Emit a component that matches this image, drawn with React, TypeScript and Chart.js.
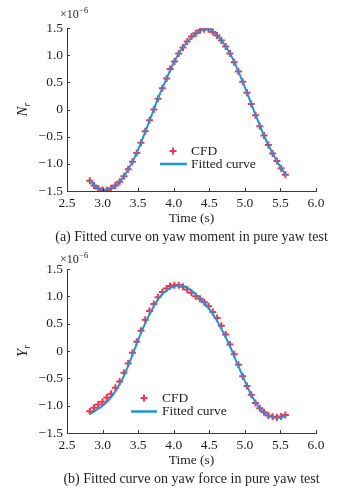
import React, { useEffect, useRef } from "react";
import { Chart, registerables } from "chart.js";

Chart.register(...registerables);

// ---- shared data ----
const TIME = [
  2.82, 2.88, 2.94, 3.0, 3.06, 3.12, 3.18, 3.24, 3.3, 3.36,
  3.42, 3.48, 3.54, 3.6, 3.66, 3.72, 3.78, 3.84, 3.9, 3.95,
  4.01, 4.07, 4.13, 4.19, 4.25, 4.31, 4.37, 4.43, 4.49, 4.55,
  4.61, 4.67, 4.73, 4.79, 4.85, 4.91, 4.97, 5.03, 5.09, 5.15,
  5.21, 5.27, 5.33, 5.39, 5.45, 5.51, 5.57,
];
const X_TICKS = [2.5, 3.0, 3.5, 4.0, 4.5, 5.0, 5.5, 6.0];
const Y_TICKS = [-1.5, -1.0, -0.5, 0, 0.5, 1.0, 1.5];

// ---- (a) yaw moment ----
const CFD_N = [
  -1.31, -1.4, -1.455, -1.48, -1.48, -1.45, -1.4, -1.33, -1.23, -1.1,
  -0.96, -0.8, -0.61, -0.4, -0.2, 0.0, 0.2, 0.39, 0.57, 0.745,
  0.885, 1.03, 1.14, 1.25, 1.345, 1.405, 1.46, 1.478, 1.478, 1.425,
  1.36, 1.27, 1.16, 1.03, 0.87, 0.7, 0.51, 0.31, 0.1, -0.105,
  -0.31, -0.48, -0.655, -0.81, -0.95, -1.08, -1.2,
];
const FIT_T_N = [
  2.82, 2.9, 3.0, 3.1, 3.2, 3.3, 3.4, 3.5, 3.6, 3.7, 3.8, 3.9, 4.0, 4.1,
  4.2, 4.3, 4.4, 4.5, 4.6, 4.7, 4.8, 4.9, 5.0, 5.1, 5.2, 5.3, 5.4, 5.5, 5.58,
];
const FIT_N = [
  -1.3, -1.42, -1.475, -1.46, -1.38, -1.23, -1.01, -0.74, -0.41, -0.07,
  0.27, 0.57, 0.86, 1.09, 1.26, 1.39, 1.46, 1.478, 1.38, 1.22,
  1.01, 0.73, 0.41, 0.07, -0.26, -0.57, -0.83, -1.06, -1.21,
];

// ---- (b) yaw force ----
const CFD_Y = [
  -1.1, -1.04, -0.98, -0.93, -0.85, -0.78, -0.67, -0.56, -0.4, -0.23,
  -0.03, 0.17, 0.37, 0.57, 0.73, 0.86, 0.985, 1.08, 1.145, 1.19,
  1.205, 1.205, 1.175, 1.125, 1.065, 1.0, 0.955, 0.89, 0.82, 0.715,
  0.605, 0.46, 0.3, 0.117, -0.06, -0.25, -0.46, -0.64, -0.8, -0.95,
  -1.045, -1.12, -1.18, -1.205, -1.215, -1.2, -1.17,
];
const FIT_T_Y = [
  2.83, 2.9, 3.0, 3.1, 3.2, 3.3, 3.4, 3.5, 3.6, 3.7, 3.8, 3.9, 4.0, 4.1,
  4.2, 4.3, 4.4, 4.5, 4.6, 4.7, 4.8, 4.9, 5.0, 5.1, 5.2, 5.3, 5.4, 5.5, 5.58,
];
const FIT_Y = [
  -1.15, -1.09, -1.0, -0.88, -0.7, -0.46, -0.14, 0.2, 0.51, 0.77,
  0.98, 1.11, 1.18, 1.2, 1.15, 1.05, 0.92, 0.77, 0.57, 0.33,
  0.06, -0.25, -0.55, -0.83, -1.03, -1.16, -1.21, -1.22, -1.17,
];

const RED = "#ef3550";
const BLUE = "#1f97d6";
const AXIS = "#3a3a3a";
const TEXT = "#1e1e1e";
const SERIF = '"Liberation Serif", "DejaVu Serif", serif';

const fmt = (v: number) =>
  v === 0 ? "0" : (v < 0 ? "\u2212" : "") + Math.abs(v).toFixed(1);

function drawCross(ctx: CanvasRenderingContext2D, x: number, y: number) {
  ctx.save();
  ctx.strokeStyle = RED;
  ctx.lineWidth = 2;
  ctx.beginPath();
  ctx.moveTo(x - 3.5, y);
  ctx.lineTo(x + 3.5, y);
  ctx.moveTo(x, y - 3.5);
  ctx.lineTo(x, y + 3.5);
  ctx.stroke();
  ctx.restore();
}

type PanelProps = {
  top: number;
  height: number;
  padTop: number;
  xHeight: number;
  cfd: number[];
  fitT: number[];
  fitV: number[];
  yLetter: string;
  caption: string;
  legend: { mx: number; my: number; lx1: number; lx2: number; ly: number; tx: number };
};

function Panel(p: PanelProps) {
  const ref = useRef<HTMLCanvasElement | null>(null);
  useEffect(() => {
    if (!ref.current) return;
    const decor = {
      id: "decor",
      afterDraw(chart: any) {
        const ctx = chart.ctx as CanvasRenderingContext2D;
        const a = chart.chartArea;
        const xs = chart.scales.x;
        const ys = chart.scales.y;
        ctx.save();
        // inward ticks
        ctx.strokeStyle = AXIS;
        ctx.lineWidth = 1;
        ctx.beginPath();
        X_TICKS.forEach((v) => {
          const px = Math.round(xs.getPixelForValue(v)) + 0.5;
          ctx.moveTo(px, a.bottom);
          ctx.lineTo(px, a.bottom - 3);
        });
        Y_TICKS.forEach((v) => {
          const py = Math.round(ys.getPixelForValue(v)) + 0.5;
          ctx.moveTo(a.left, py);
          ctx.lineTo(a.left + 3, py);
        });
        ctx.stroke();

        ctx.fillStyle = TEXT;
        const cx = (a.left + a.right) / 2;
        ctx.textAlign = "center";
        ctx.textBaseline = "middle";
        ctx.font = `13.5px ${SERIF}`;
        ctx.fillText("Time (s)", cx, a.bottom + 27);
        ctx.font = `14px ${SERIF}`;
        ctx.fillText(p.caption, cx, a.bottom + 46);

        // exponent
        ctx.textAlign = "left";
        ctx.textBaseline = "alphabetic";
        ctx.font = `12px ${SERIF}`;
        ctx.fillText("\u00d710", 60, 18);
        const w = ctx.measureText("\u00d710").width;
        ctx.font = `8.5px ${SERIF}`;
        ctx.fillText("\u22126", 60 + w + 0.5, 12.5);

        // y title
        ctx.save();
        ctx.translate(27, (a.top + a.bottom) / 2);
        ctx.rotate(-Math.PI / 2);
        ctx.font = `italic 15px ${SERIF}`;
        const nw = ctx.measureText(p.yLetter).width;
        ctx.textAlign = "left";
        ctx.fillText(p.yLetter, -(nw + 4) / 2, 0);
        ctx.font = `italic 9.5px ${SERIF}`;
        ctx.fillText("r", -(nw + 4) / 2 + nw, 3);
        ctx.restore();

        // legend
        const L = p.legend;
        drawCross(ctx, L.mx, L.my);
        ctx.strokeStyle = BLUE;
        ctx.lineWidth = 2.5;
        ctx.beginPath();
        ctx.moveTo(L.lx1, L.ly);
        ctx.lineTo(L.lx2, L.ly);
        ctx.stroke();
        ctx.fillStyle = TEXT;
        ctx.font = `13.5px ${SERIF}`;
        ctx.textAlign = "left";
        ctx.textBaseline = "middle";
        ctx.fillText("CFD", L.tx, L.my);
        ctx.fillText("Fitted curve", L.tx, L.ly);
        ctx.restore();
      },
    };

    const tickFont = { family: SERIF, size: 13.5 };
    const chart = new Chart(ref.current, {
      type: "scatter",
      data: {
        datasets: [
          {
            type: "line",
            label: "Fitted curve",
            data: p.fitT.map((t, i) => ({ x: t, y: p.fitV[i] })),
            borderColor: BLUE,
            borderWidth: 2,
            pointRadius: 0,
            cubicInterpolationMode: "monotone",
            fill: false,
            order: 0,
          },
          {
            label: "CFD",
            data: TIME.map((t, i) => ({ x: t, y: p.cfd[i] })),
            pointStyle: "cross",
            pointRadius: 3.5,
            borderWidth: 2,
            borderColor: RED,
            backgroundColor: RED,
            showLine: false,
            order: 1,
          },
        ],
      } as any,
      options: {
        responsive: false,
        animation: false,
        devicePixelRatio: 1,
        layout: { padding: { top: p.padTop, right: 38, left: 0, bottom: 0 } },
        plugins: { legend: { display: false }, tooltip: { enabled: false } },
        scales: {
          x: {
            type: "linear",
            min: 2.5,
            max: 6.0,
            afterBuildTicks: (s: any) => {
              s.ticks = X_TICKS.map((v) => ({ value: v }));
            },
            afterFit: (s: any) => {
              s.height = p.xHeight;
            },
            grid: { display: true, drawOnChartArea: false, drawTicks: false },
            border: { display: true, color: AXIS, width: 1 },
            ticks: {
              font: tickFont,
              color: TEXT,
              padding: 4,
              maxRotation: 0,
              autoSkip: false,
              callback: (v: any) => fmt(Number(v)),
            },
          },
          y: {
            type: "linear",
            min: -1.5,
            max: 1.5,
            afterBuildTicks: (s: any) => {
              s.ticks = Y_TICKS.map((v) => ({ value: v }));
            },
            afterFit: (s: any) => {
              s.width = 67;
            },
            grid: { display: true, drawOnChartArea: false, drawTicks: false },
            border: { display: true, color: AXIS, width: 1 },
            ticks: {
              font: tickFont,
              color: TEXT,
              padding: 4,
              autoSkip: false,
              callback: (v: any) => fmt(Number(v)),
            },
          },
        },
      } as any,
      plugins: [decor],
    });
    return () => chart.destroy();
  }, []);
  return (
    <canvas
      ref={ref}
      width={354}
      height={p.height}
      style={{ position: "absolute", left: 0, top: p.top, width: 354, height: p.height, display: "block" }}
    />
  );
}

export default function App() {
  return (
    <div style={{ position: "absolute", left: 0, top: 0, width: 354, height: 491, background: "#fff", overflow: "hidden" }}>
      <Panel
        top={0}
        height={245}
        padTop={28}
        xHeight={54}
        cfd={CFD_N}
        fitT={FIT_T_N}
        fitV={FIT_N}
        yLetter="N"
        caption="(a) Fitted curve on yaw moment in pure yaw test"
        legend={{ mx: 173, my: 151, lx1: 160, lx2: 187, ly: 164, tx: 191 }}
      />
      <Panel
        top={245}
        height={246}
        padTop={24}
        xHeight={58}
        cfd={CFD_Y}
        fitT={FIT_T_Y}
        fitV={FIT_Y}
        yLetter="Y"
        caption="(b) Fitted curve on yaw force in pure yaw test"
        legend={{ mx: 144, my: 153, lx1: 131, lx2: 157, ly: 166.5, tx: 162 }}
      />
    </div>
  );
}
